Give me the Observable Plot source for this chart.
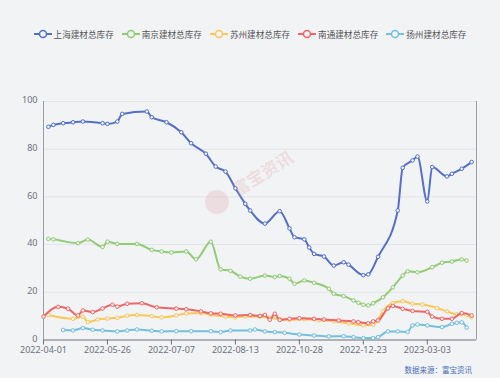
<!DOCTYPE html>
<html><head><meta charset="utf-8">
<script src="https://cdn.jsdelivr.net/npm/d3@7"></script>
<script src="https://cdn.jsdelivr.net/npm/@observablehq/plot@0.6"></script>
<style>
body{margin:0;background:#f2f3f5;font-family:"Noto Sans CJK SC","Noto Sans",sans-serif;}
#wrap{position:relative;width:500px;height:378px;overflow:hidden;background:#f2f3f5;}
#legend{position:absolute;left:0;top:27px;width:500px;height:14px;display:flex;justify-content:center;align-items:center;gap:8px;font-size:8.6px;color:#555;}
.item{display:flex;align-items:center;white-space:nowrap;}
.item svg{margin-right:2px;}
#caption{position:absolute;right:28px;top:364px;font-size:7.5px;color:#4a6fb5;}
#wm{position:absolute;left:228px;top:160px;font-size:17px;color:rgba(215,140,140,0.22);transform:rotate(-32deg);font-weight:bold;}
#wmlogo{position:absolute;left:205px;top:190px;width:24px;height:24px;border-radius:50%;background:rgba(215,140,140,0.2);}
#chart{position:absolute;left:0;top:0;}
</style></head><body>
<div id="wrap">
<div id="chart"></div>
<div id="wmlogo"></div>
<div id="wm">富宝资讯</div>
<div id="legend"></div>
<div id="caption">数据来源：富宝资讯</div>
</div>
<script>
const seriesNames = ["上海建材总库存","南京建材总库存","苏州建材总库存","南通建材总库存","扬州建材总库存"];
const seriesColors = ["#5470c6","#91cc75","#fac858","#ee6666","#73c0de"];
const tickIdx = [0,13,26,39,52,65,78];
const tickLabels = ["2022-04-01","2022-05-26","2022-07-07","2022-08-13","2022-10-28","2022-12-23","2023-03-03"];
const yTicks = [0,20,40,60,80,100];

// [category index, value]
const shanghai = [[1,89.4],[2,90.2],[4,90.9],[6,91.3],[8,91.6],[12,90.9],[13,90.6],[15,91.6],[16,94.8],[21,95.8],[22,93.4],[25,91.3],[28,87.1],[30,82.5],[33,78.1],[35,72.7],[37,70.6],[39,63.6],[41,57.1],[42,54.3],[45,48.8],[48,54.0],[50,46.8],[51,43.1],[53,42.2],[54,38.8],[55,36.1],[57,35.0],[59,31.2],[61,32.6],[62,31.6],[65,27.2],[66,27.5],[68,34.9],[72,54.3],[73,72.2],[75,75.3],[76,76.9],[78,58.1],[79,72.5],[82,68.6],[83,69.7],[85,71.8],[87,74.6]];
const nanjing = [[1,42.4],[2,42.2],[7,40.6],[9,42.1],[12,39.0],[13,41.2],[15,40.3],[19,40.3],[22,37.8],[24,37.1],[26,36.7],[29,37.1],[31,33.8],[34,41.2],[36,29.6],[38,29.0],[40,26.6],[42,25.7],[45,27.0],[47,26.4],[48,26.8],[50,25.7],[51,23.6],[53,25.0],[55,24.0],[58,21.5],[59,19.4],[61,18.4],[63,16.6],[64,15.6],[65,14.8],[66,14.5],[67,15.4],[69,17.9],[71,22.1],[73,27.0],[74,28.8],[76,28.4],[79,30.5],[81,32.4],[83,32.9],[85,33.8],[86,33.3]];
const suzhou = [[1,10.5],[6,8.9],[8,9.8],[9,7.5],[11,8.6],[13,9.0],[15,9.3],[17,10.2],[19,10.5],[22,10.0],[24,9.5],[27,10.3],[29,11.1],[32,11.3],[34,10.6],[37,9.8],[39,9.5],[41,9.9],[44,9.8],[46,9.3],[48,8.8],[50,8.5],[53,8.7],[56,8.3],[59,7.9],[62,7.0],[65,6.2],[67,6.4],[68,8.5],[69,12.0],[71,15.5],[73,16.3],[75,15.2],[77,14.9],[80,13.4],[82,12.0],[84,10.8],[85,10.8],[86,10.5],[87,9.6]];
const nantong = [[0,9.8],[3,13.9],[5,13.1],[7,10.3],[8,12.4],[10,11.7],[12,13.2],[14,14.8],[15,14.0],[17,15.2],[20,15.4],[23,13.7],[27,13.2],[29,12.9],[32,12.0],[34,11.2],[36,11.0],[39,10.3],[42,10.5],[44,10.1],[45,10.5],[46,8.5],[47,11.0],[48,8.4],[50,8.9],[52,9.1],[55,8.9],[57,8.6],[60,8.2],[63,7.8],[64,7.5],[66,7.0],[67,7.8],[68,8.2],[70,13.3],[71,14.3],[73,13.1],[75,12.2],[78,11.8],[79,9.8],[81,8.9],[83,8.9],[85,11.3],[87,10.3]];
const yangzhou = [[4,4.2],[6,4.0],[8,5.0],[10,4.3],[12,4.0],[15,3.6],[17,4.0],[19,4.4],[22,3.9],[24,3.6],[27,3.7],[30,3.7],[34,3.7],[36,3.3],[38,4.0],[42,4.0],[43,4.4],[45,3.6],[47,3.3],[49,3.0],[52,2.3],[55,1.9],[58,1.5],[61,1.6],[63,1.2],[65,0.8],[67,0.8],[68,1.2],[70,3.6],[72,3.6],[74,3.4],[75,6.1],[76,6.5],[78,6.1],[81,5.4],[83,6.8],[84,7.2],[85,7.4],[86,5.2]];

const allSeries = [shanghai, nanjing, suzhou, nantong, yangzhou];
const BG = "#f2f3f5";

const seriesMarks = allSeries.flatMap((s, k) => {
  const rows = s.map(([i, v]) => ({i, v, name: seriesNames[k]}));
  return [
    Plot.line(rows, {x: "i", y: "v", stroke: "name", curve: "monotone-x", strokeWidth: 2}),
    Plot.dot(rows, {x: "i", y: "v", stroke: "name", fill: BG, r: 1.8, strokeWidth: 1})
  ];
});

const chart = Plot.plot({
  width: 500, height: 378,
  marginLeft: 43, marginRight: 24, marginTop: 101, marginBottom: 38.5,
  style: {background: "transparent", fontFamily: '"Noto Sans","Noto Sans CJK SC",sans-serif', fontSize: "9px", color: "#6e7079"},
  x: {domain: [0, 88], label: null},
  y: {domain: [0, 100], label: null},
  color: {domain: seriesNames, range: seriesColors},
  marks: [
    Plot.gridY(yTicks.filter(d => d > 0), {stroke: "#e2e4e9", strokeOpacity: 1}),
    Plot.axisY({ticks: yTicks, tickSize: 0, tickPadding: 6, label: null, fill: "#6e7079", dy: -1}),
    Plot.axisX({ticks: tickIdx, tickFormat: d => tickLabels[tickIdx.indexOf(d)], tickSize: 5, tickPadding: 2, label: null, stroke: "#6e7079", fill: "#6e7079"}),
    Plot.ruleX([0, 88], {stroke: "#9a9ca3", strokeWidth: 1}),
    Plot.ruleY([0], {stroke: "#6e7079", strokeWidth: 1}),
    ...seriesMarks
  ]
});
document.getElementById("chart").appendChild(chart);

const legend = document.getElementById("legend");
seriesNames.forEach((n, k) => {
  const item = document.createElement("div");
  item.className = "item";
  item.innerHTML = `<svg width="18" height="10"><line x1="0" y1="5" x2="18" y2="5" stroke="${seriesColors[k]}" stroke-width="2"/><circle cx="9" cy="5" r="3.5" fill="${BG}" stroke="${seriesColors[k]}" stroke-width="1.5"/></svg><span>${n}</span>`;
  legend.appendChild(item);
});
</script>
</body></html>
